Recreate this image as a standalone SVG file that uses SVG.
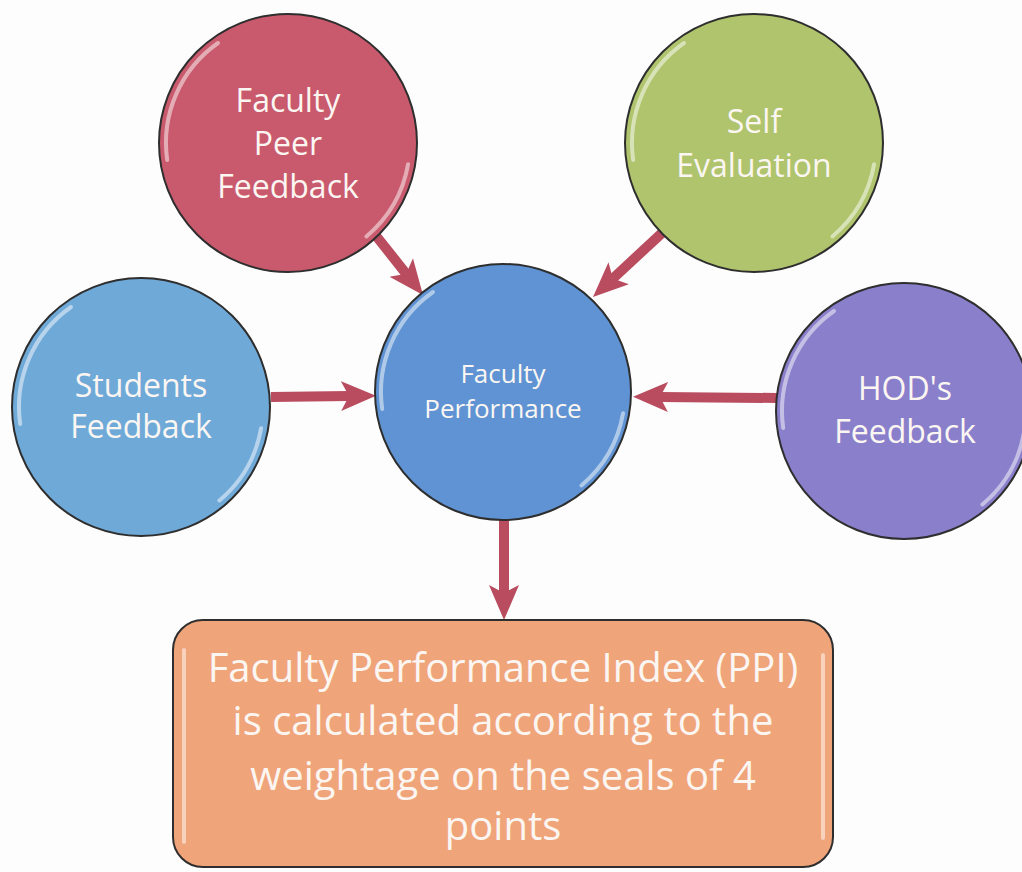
<svg xmlns="http://www.w3.org/2000/svg" xmlns:xlink="http://www.w3.org/1999/xlink" width="1022" height="872" viewBox="0 0 1022 872">
  <style>
    .node { stroke: #2e2e2e; stroke-width: 2; }
    .lbl { font-family: "Open Sans", "Liberation Sans", sans-serif; fill: #fbf6f2; text-anchor: middle; font-size: 32px; }
    .lbl-sm { font-size: 26px; }
    .lbl-box { font-size: 40px; }
    .gloss { fill: none; stroke: #ffffff; stroke-width: 4; stroke-linecap: round; opacity: 0.5; }
    .conn { stroke: #b94c5f; stroke-width: 10; fill: none; marker-end: url(#head); }
  </style>
  <defs>
    <marker id="head" markerUnits="userSpaceOnUse" markerWidth="40" markerHeight="40" refX="8" refY="20" orient="auto" viewBox="0 0 40 40">
      <path d="M35,20 L0,5 L8,20 L0,35 Z" fill="#b94c5f"/>
    </marker>
    <g id="gloss">
      <path class="gloss" d="M -70,-100 A 122 122 0 0 0 -120.8,17"/>
      <path class="gloss" d="M 120.1,21.2 A 122 122 0 0 1 78.4,93.5"/>
    </g>
  </defs>
  <rect width="1022" height="872" fill="#fdfdfd"/>

  <g id="connectors">
    <line class="conn" x1="373" y1="232" x2="406.2" y2="273.8"/>
    <line class="conn" x1="662" y1="233" x2="612.8" y2="278.6"/>
    <line class="conn" x1="271" y1="397" x2="349" y2="396"/>
    <line class="conn" x1="777" y1="398" x2="660" y2="397"/>
    <line class="conn" x1="504" y1="519" x2="504" y2="593"/>
  </g>

  <g id="node-peer">
    <circle class="node" cx="288" cy="143" r="129" fill="#c95a6d"/>
    <use xlink:href="#gloss" x="288" y="143"/>
    <text class="lbl" x="288" y="112">Faculty</text>
    <text class="lbl" x="288" y="155">Peer</text>
    <text class="lbl" x="288" y="198">Feedback</text>
  </g>

  <g id="node-self">
    <circle class="node" cx="754" cy="143" r="129" fill="#afc46c"/>
    <use xlink:href="#gloss" x="754" y="143"/>
    <text class="lbl" x="754" y="133">Self</text>
    <text class="lbl" x="754" y="177">Evaluation</text>
  </g>

  <g id="node-students">
    <circle class="node" cx="141" cy="407" r="129" fill="#6fa9d8"/>
    <use xlink:href="#gloss" x="141" y="407"/>
    <text class="lbl" x="141" y="397">Students</text>
    <text class="lbl" x="141" y="438">Feedback</text>
  </g>

  <g id="node-performance">
    <circle class="node" cx="503" cy="392" r="128" fill="#5f93d3"/>
    <use xlink:href="#gloss" x="503" y="392"/>
    <text class="lbl lbl-sm" x="503" y="383">Faculty</text>
    <text class="lbl lbl-sm" x="503" y="418">Performance</text>
  </g>

  <g id="node-hod">
    <circle class="node" cx="904" cy="411" r="128" fill="#8a7fcb"/>
    <use xlink:href="#gloss" x="904" y="411"/>
    <text class="lbl" x="905" y="400">HOD's</text>
    <text class="lbl" x="905" y="443">Feedback</text>
  </g>

  <g id="node-index">
    <rect class="node" x="173" y="620" width="660" height="247" rx="30" ry="30" fill="#f0a47a"/>
    <path class="gloss" d="M 184,650 L 184,842"/>
    <path class="gloss" d="M 823,655 L 823,838"/>
    <text class="lbl lbl-box" x="503" y="682">Faculty Performance Index (PPI)</text>
    <text class="lbl lbl-box" x="503" y="735">is calculated according to the</text>
    <text class="lbl lbl-box" x="503" y="790">weightage on the seals of 4</text>
    <text class="lbl lbl-box" x="503" y="840">points</text>
  </g>
</svg>
